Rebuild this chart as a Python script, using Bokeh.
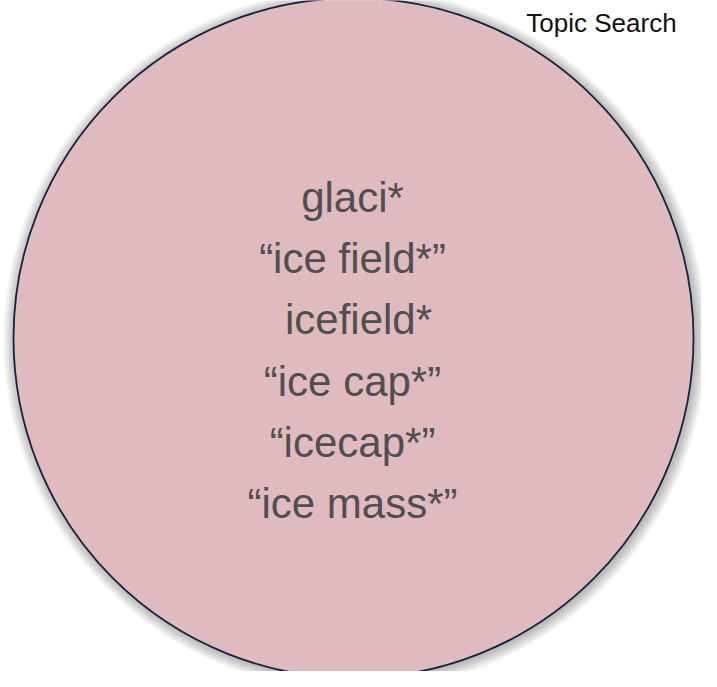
from bokeh.plotting import figure
from bokeh.models import Range1d, ColumnDataSource
from bokeh.core.properties import value
from bokeh.embed import file_html
from bokeh.resources import INLINE

# Data
title_label = "Topic Search"
terms = ["glaci*", "\u201cice field*\u201d", "icefield*", "\u201cice cap*\u201d", "\u201cicecap*\u201d", "\u201cice mass*\u201d"]

W, H = 701, 671
p = figure(width=W, height=H, output_backend="svg", toolbar_location=None,
           x_range=Range1d(0, W), y_range=Range1d(H, 0),
           min_border=0, outline_line_color=None)
p.axis.visible = False
p.grid.visible = False
p.background_fill_color = "white"
p.border_fill_color = "white"

cx, cy, r = 353, 337.5, 340

# soft shadow
for i in range(12):
    p.circle(x=[cx + 1.5], y=[cy + 1.5], radius=r + 1 + i * 1.0, fill_color="black",
             fill_alpha=0.022, line_color=None)

p.circle(x=[cx], y=[cy], radius=r, fill_color="#DFBBBF", line_color="#142340",
         line_width=1.8)

n = len(terms)
xs_off = [0, 0, 6, 0, 0, 0]
src = ColumnDataSource(dict(
    x=[cx - 1 + xs_off[i] for i in range(n)],
    y=[197 + 61.2 * i for i in range(n)],
    t=terms,
))
p.text(x="x", y="y", text="t", source=src, text_align="center",
       text_baseline="alphabetic", text_font=value("Liberation Sans"),
       text_font_size="42px", text_color="#4F4F4F")

p.text(x=[601], y=[22], text=[title_label], text_align="center",
       text_baseline="alphabetic", text_font=value("Liberation Sans"),
       text_font_size="26px", text_color="#111111")

open("out.html", "w").write(file_html(p, INLINE))
